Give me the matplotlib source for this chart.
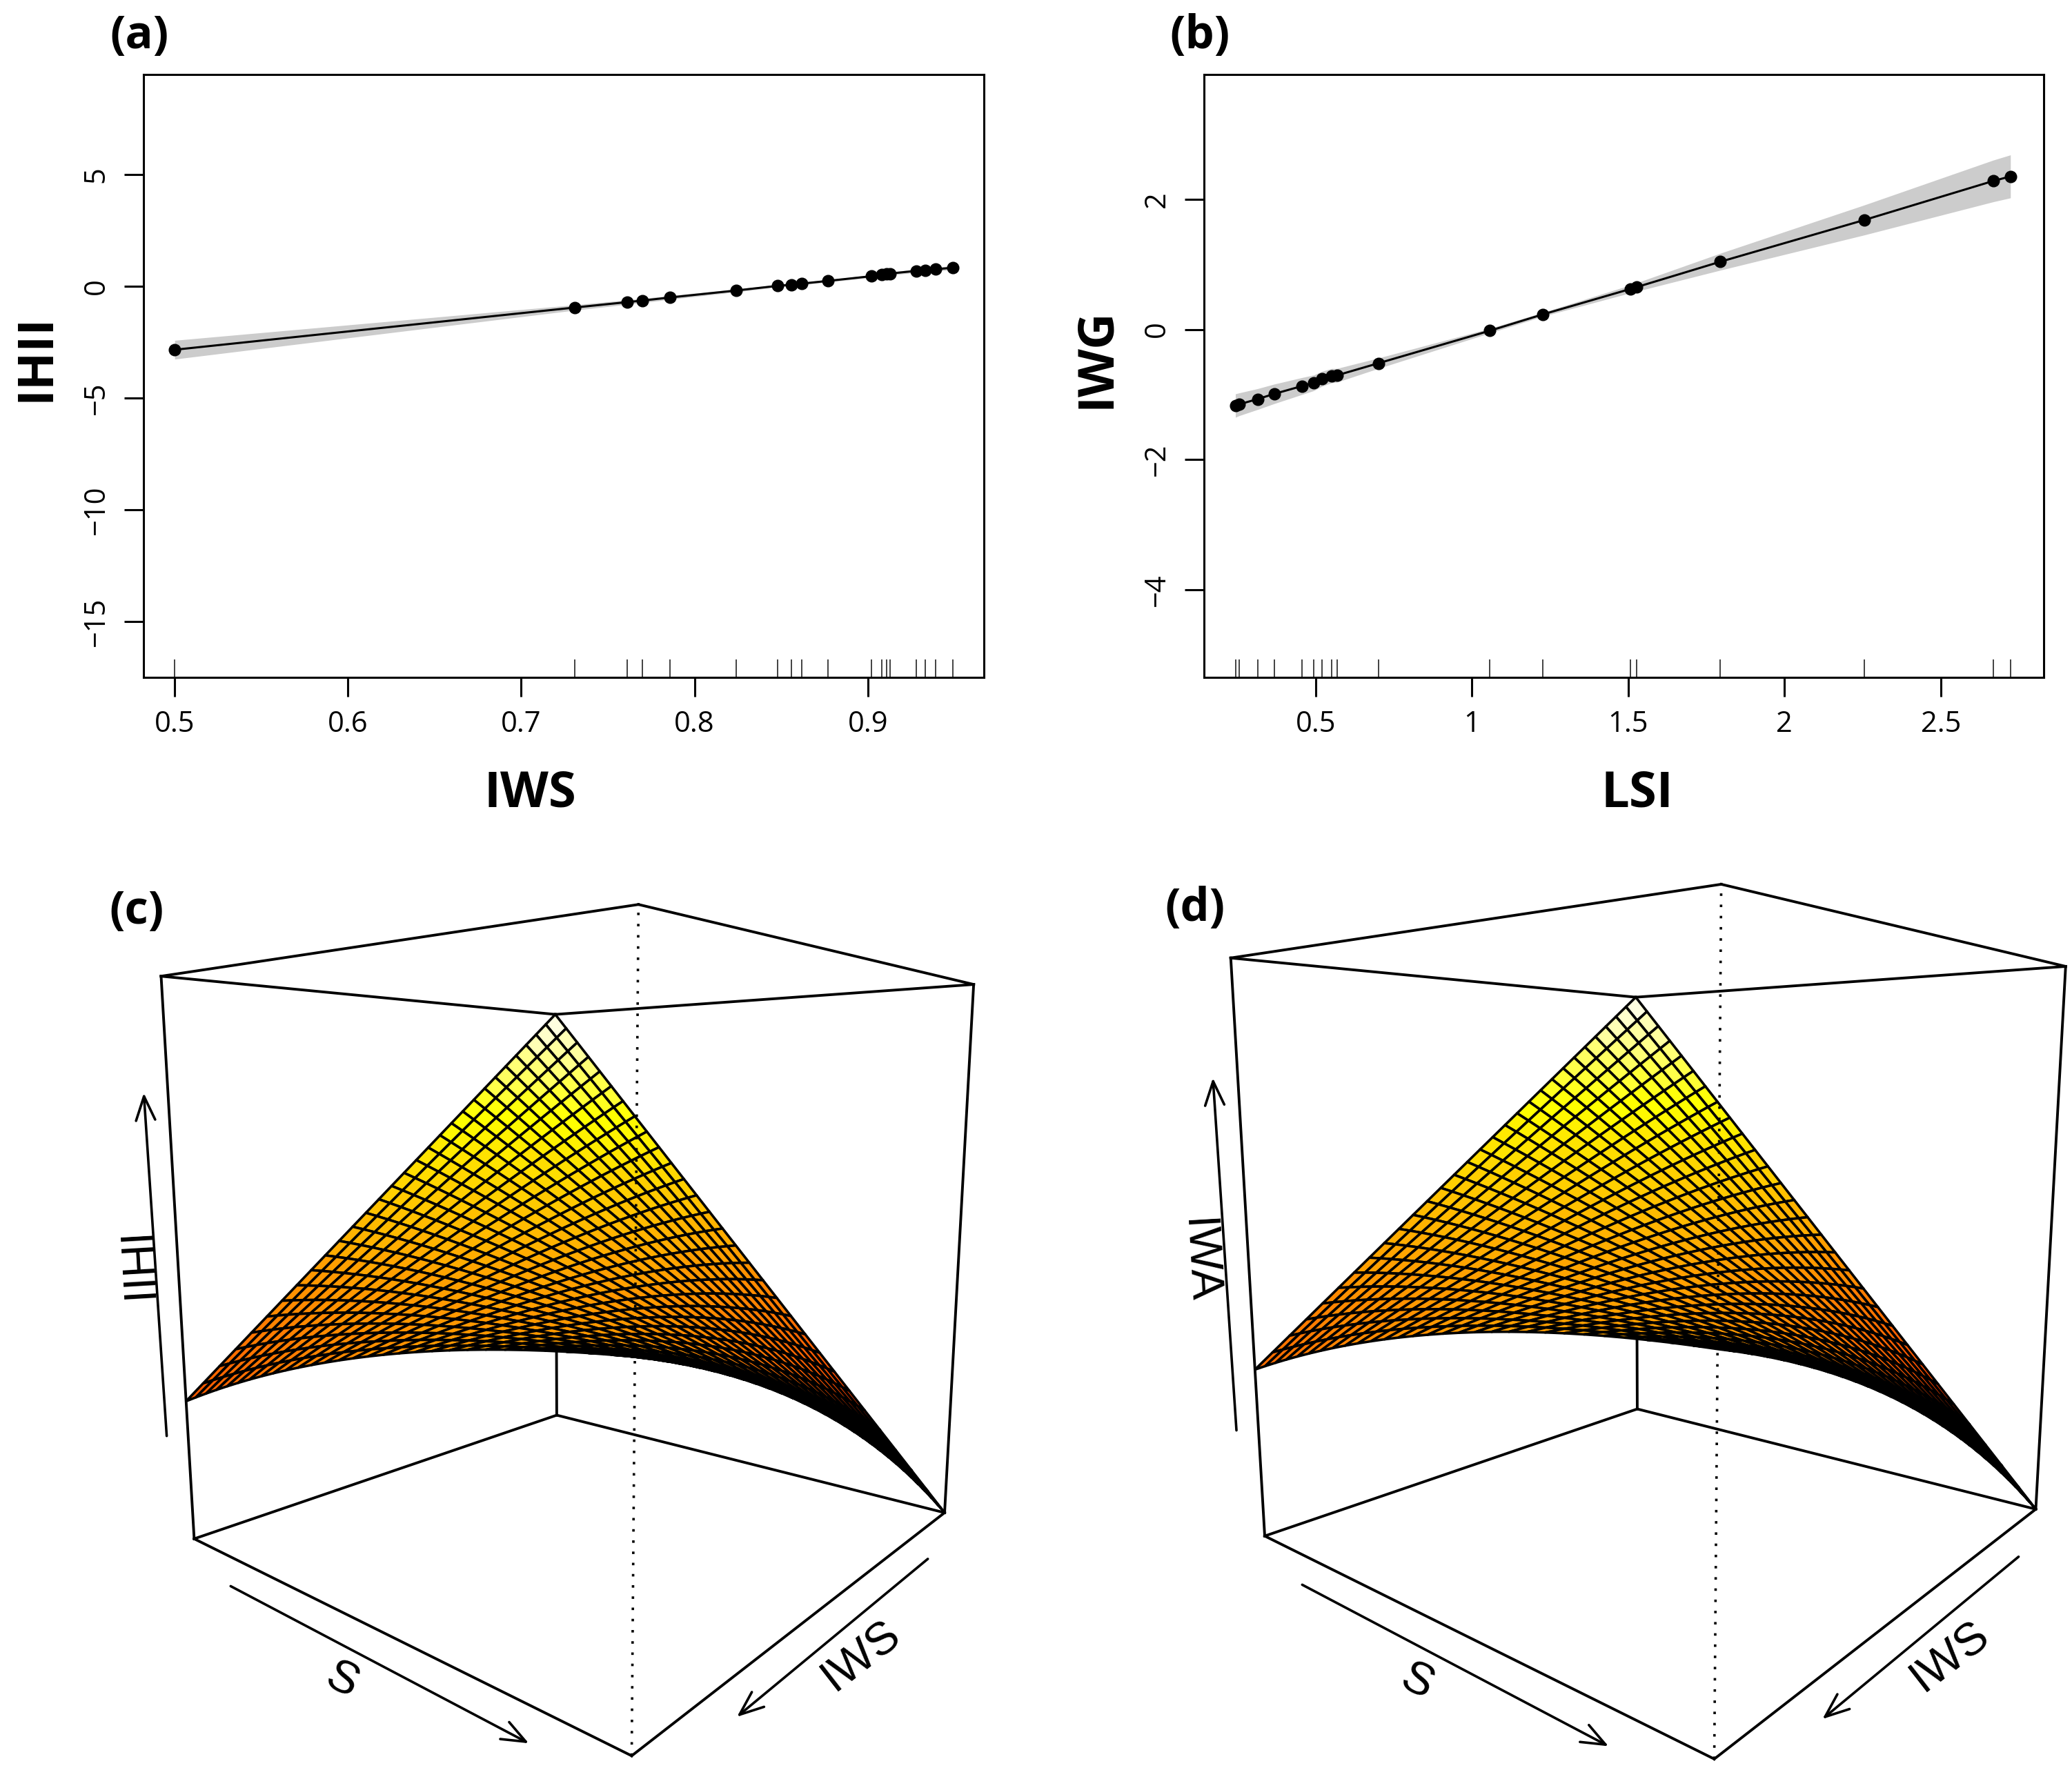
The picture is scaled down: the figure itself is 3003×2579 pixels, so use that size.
import numpy as np
import matplotlib
matplotlib.use("Agg")
import matplotlib.pyplot as plt
import matplotlib.transforms as mtransforms
from matplotlib.colors import ListedColormap, hsv_to_rgb
from mpl_toolkits.mplot3d import proj3d

# ---------------- data ----------------
# (a) partial effect of IWS on IHII
iws = [0.500, 0.731, 0.761, 0.770, 0.786, 0.824, 0.848, 0.856, 0.862,
       0.877, 0.902, 0.908, 0.911, 0.913, 0.928, 0.933, 0.939, 0.949]
ihii = [-2.84, -0.95, -0.71, -0.64, -0.50, -0.19, 0.02, 0.07, 0.12,
        0.24, 0.45, 0.52, 0.54, 0.57, 0.69, 0.71, 0.76, 0.83]
ihii_se = [0.42, 0.12, 0.10, 0.095, 0.085, 0.065, 0.055, 0.055, 0.055,
           0.055, 0.06, 0.065, 0.065, 0.07, 0.075, 0.08, 0.085, 0.09]

# (b) partial effect of LSI on IWG
lsi = [0.243, 0.255, 0.314, 0.367, 0.456, 0.494, 0.519, 0.551, 0.568,
       0.700, 1.057, 1.226, 1.506, 1.527, 1.795, 2.255, 2.668, 2.723]
iwg = [-1.17, -1.15, -1.07, -0.99, -0.87, -0.82, -0.76, -0.71, -0.705,
       -0.52, -0.02, 0.23, 0.62, 0.65, 1.04, 1.68, 2.28, 2.35]
iwg_se = [0.18, 0.175, 0.16, 0.15, 0.13, 0.12, 0.115, 0.11, 0.105,
          0.08, 0.035, 0.03, 0.06, 0.065, 0.13, 0.23, 0.32, 0.33]

# (c), (d) fitted surfaces (relative heights)
# corners: (IWS lo, S lo), (IWS hi, S lo), (IWS lo, S hi), (IWS hi, S hi)
ihii_corners = [1.0, 0.26, 0.0, 0.5]
iwa_corners = [1.0, 0.305, 0.0, 0.5]
# arching of the far edges: along S at IWS hi, along IWS at S hi
ihii_bend = [0.04, 0.06]
iwa_bend = [0.04, 0.06]
n_grid = 30

# ---------------- style ----------------
W, H = 3003, 2579
fig = plt.figure(figsize=(W / 100, H / 100), dpi=100)

tick_font = "Open Sans"
lab_font = "Open Sans"
persp_font = "Liberation Sans"

# heat.colors(50) as in R
nc = 50
j = nc // 4
i = nc - j
heat_cols = [hsv_to_rgb((h, 1, 1)) for h in np.linspace(0, 1 / 6, i)]
heat_cols += [hsv_to_rgb((1 / 6, s, 1)) for s in np.linspace(1 - 1 / (2 * j), 1 / (2 * j), j)]
heat = ListedColormap(heat_cols)


def gam_panel(rect, x, y, se, xlim, ylim, xticks, xticklabels, yticks,
              xlabel, ylabel, xlab_x, ylab_y, tag):
    ax = fig.add_axes(rect)
    ax.set_zorder(5)
    x = np.asarray(x)
    y = np.asarray(y)
    se = np.asarray(se)
    ax.fill_between(x, y - se, y + se, color="#cccccc", lw=0, zorder=1)
    ax.plot(x, y, color="black", lw=2.2, zorder=2)
    ax.plot(x, y, "o", color="black", ms=12, zorder=3)
    ax.vlines(x, 0, 0.03, transform=ax.get_xaxis_transform(),
              colors="#333333", lw=1.3)
    ax.set_xlim(xlim)
    ax.set_ylim(ylim)
    ax.set_xticks(xticks)
    ax.set_xticklabels(xticklabels)
    ax.set_yticks(yticks)
    ax.set_yticklabels([str(v).replace("-", "\u2212") for v in yticks])
    for sp in ax.spines.values():
        sp.set_linewidth(2.2)
    ax.tick_params(length=20, width=2.2, labelsize=30, direction="out")
    ax.tick_params(axis="x", pad=14)
    ax.tick_params(axis="y", pad=14)
    for lab in ax.get_xticklabels() + ax.get_yticklabels():
        lab.set_family(tick_font)
    for lab in ax.get_yticklabels():
        lab.set_rotation(90)
        lab.set_va("center")
    ax.text(xlab_x, -0.214, xlabel, transform=ax.transAxes, ha="center",
            va="baseline", fontsize=52, fontweight="bold", family=lab_font)
    ax.text(-0.128, ylab_y, ylabel, transform=ax.transAxes, ha="center",
            va="center", rotation=90, fontsize=52, fontweight="bold",
            family=lab_font)
    ax.text(-0.005, 1.064, tag, transform=ax.transAxes, ha="center",
            va="center", fontsize=48, fontweight="bold", family=lab_font)
    return ax


gam_panel([208 / W, 1 - 982 / H, 1218 / W, 874 / H], iws, ihii, ihii_se,
          (0.482, 0.967), (-17.5, 9.475), [0.5, 0.6, 0.7, 0.8, 0.9],
          ["0.5", "0.6", "0.7", "0.8", "0.9"], [-15, -10, -5, 0, 5],
          "IWS", "IHII", 0.46, 0.53, "(a)")
gam_panel([1745 / W, 1 - 982 / H, 1217 / W, 874 / H], lsi, iwg, iwg_se,
          (0.1425, 2.8295), (-5.344, 3.915), [0.5, 1, 1.5, 2, 2.5],
          ["0.5", "1", "1.5", "2", "2.5"], [-4, -2, 0, 2],
          "LSI", "IWG", 0.516, 0.53, "(b)")


def proj2d(ax, pts):
    pts = np.asarray(pts, float)
    px, py, _ = proj3d.proj_transform(pts[:, 0], pts[:, 1], pts[:, 2],
                                      ax.get_proj())
    return np.column_stack([px, py])


def edge_frame(ax, p0, p1, centre):
    a, b = proj2d(ax, [p0, p1])
    d = b - a
    n = np.array([-d[1], d[0]]) / np.hypot(*d)
    if np.dot(n, (a + b) / 2 - centre) < 0:
        n = -n
    return a, d, n


def shifted(ax, n, dist):
    return ax.transData + mtransforms.Affine2D().translate(*(n * dist))


def edge_axis(ax, p0, p1, centre, t0, d0, t1, d1, tl, dl, text, sc):
    a, d, n = edge_frame(ax, p0, p1, centre)
    ax.annotate("", xy=a + t1 * d, xycoords=shifted(ax, n, d1 * sc),
                xytext=a + t0 * d, textcoords=shifted(ax, n, d0 * sc),
                annotation_clip=False,
                arrowprops=dict(arrowstyle="->,head_length=1.0,head_width=0.4",
                                lw=2.6, color="black", mutation_scale=25,
                                shrinkA=0, shrinkB=0))
    ang = np.degrees(np.arctan2(d[1], d[0]))
    if ang > 90:
        ang -= 180
    elif ang <= -90:
        ang += 180
    ax.annotate(text, xy=a + tl * d, xycoords=shifted(ax, n, dl * sc),
                rotation=ang, ha="center", va="center", fontsize=48,
                family=persp_font, annotation_clip=False)


def persp_panel(rect, corners, bend, zlabel, tag, tagpos, sc):
    ax = fig.add_axes(rect, projection="3d", proj_type="persp",
                      focal_length=0.209, computed_zorder=False)
    ax.set_facecolor("none")
    ax.set_axis_off()
    ax.set_xlim(0, 1)
    ax.set_ylim(0, 1)
    ax.set_zlim(0, 1)
    ax.set_box_aspect((1, 1, 0.995), zoom=1.0)
    ax.view_init(elev=8.7, azim=40)

    g = np.linspace(0, 1, n_grid)
    X, Y = np.meshgrid(g, g)          # X: IWS, Y: S
    z00, z10, z01, z11 = corners
    Z = (z00 * (1 - X) * (1 - Y) + z10 * X * (1 - Y)
         + z01 * (1 - X) * Y + z11 * X * Y)
    Z = Z + bend[0] * X * 4 * Y * (1 - Y) + bend[1] * Y * 4 * X * (1 - X)
    surf = ax.plot_surface(X, Y, Z, rstride=1, cstride=1, cmap=heat,
                           vmin=Z.min(), vmax=Z.max(), edgecolor="black",
                           linewidth=2.6, shade=False, antialiased=True,
                           zorder=2)
    surf.set_clip_on(False)

    # bounding box, the edge in front of the surface dotted
    for a in (0, 1):
        for b in (0, 1):
            ax.plot([0, 1], [a, a], [b, b], color="black", lw=2.8,
                    zorder=1, clip_on=False)
            ax.plot([a, a], [0, 1], [b, b], color="black", lw=2.8,
                    zorder=1, clip_on=False)
            near = (a == 1 and b == 1)
            ax.plot([a, a], [b, b], [0, 1], color="black",
                    lw=2.6 if near else 2.8,
                    ls=(0, (1, 3.5)) if near else "-",
                    zorder=3 if near else 1, clip_on=False)

    centre = proj2d(ax, [(0.5, 0.5, 0.5)])[0]
    edge_axis(ax, (1, 0, 0), (1, 1, 0), centre, 0.11, 38, 0.80, 50,
              0.40, 90, "S", sc)
    edge_axis(ax, (0, 1, 0), (1, 1, 0), centre, 0.105, 38, 0.73, 49,
              0.387, 90, "IWS", sc)
    edge_axis(ax, (1, 0, 0), (1, 0, 1), centre, 0.185, 31, 0.795, 35,
              0.48, 71, zlabel, sc)
    fig.text(tagpos[0] / W, 1 - tagpos[1] / H, tag, ha="center", va="center",
             fontsize=48, fontweight="bold", family=lab_font)
    return ax


S_c = 1346
persp_panel([(842 - 0.5135 * S_c) / W, 1 - (1832 - 0.4865 * S_c + S_c) / H,
             S_c / W, S_c / H], ihii_corners, ihii_bend, "IHII", "(c)",
            (198, 1322), 1.0)
S_d = 1383
persp_panel([(2409 - 0.5135 * S_d) / W, 1 - (1817 - 0.4865 * S_d + S_d) / H,
             S_d / W, S_d / H], iwa_corners, iwa_bend, "IWA", "(d)",
            (1732, 1318), 1.03)

fig.savefig("out.png", dpi=100)
